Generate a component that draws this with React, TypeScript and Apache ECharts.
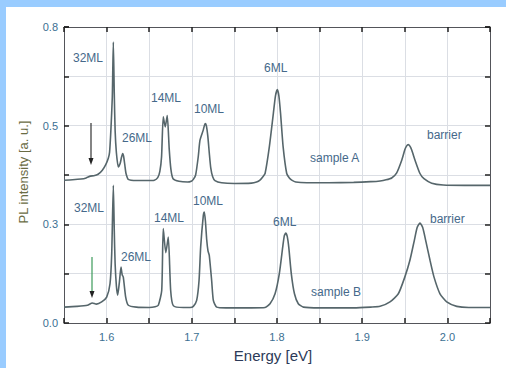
import React, { useEffect, useRef } from "react";
import * as echarts from "echarts";

// Energy [eV], PL intensity [a. u.]
const sampleA: [number, number][] = [
  [1.55, 0.386], [1.56, 0.387], [1.57, 0.389], [1.576, 0.392], [1.581, 0.397], [1.585, 0.398],
  [1.59, 0.402], [1.595, 0.413], [1.599, 0.428], [1.602, 0.445], [1.6035, 0.462], [1.605, 0.52],
  [1.6067, 0.611], [1.6079, 0.759], [1.609, 0.62], [1.61, 0.52], [1.6115, 0.46], [1.6137, 0.422],
  [1.616, 0.432], [1.6175, 0.448], [1.6189, 0.458], [1.62, 0.45], [1.6215, 0.425], [1.6228, 0.404],
  [1.6255, 0.388], [1.635, 0.385], [1.648, 0.385], [1.656, 0.386], [1.66, 0.393], [1.6625, 0.41],
  [1.6645, 0.449], [1.6665, 0.557], [1.6688, 0.53], [1.6712, 0.561], [1.6735, 0.47], [1.6755, 0.415],
  [1.678, 0.39], [1.685, 0.383], [1.695, 0.381], [1.7, 0.384], [1.7018, 0.388], [1.7045, 0.4],
  [1.7076, 0.45], [1.7096, 0.494], [1.7135, 0.522], [1.7148, 0.534], [1.716, 0.539], [1.7172, 0.532],
  [1.7188, 0.505], [1.7205, 0.46], [1.7222, 0.42], [1.7245, 0.395], [1.7272, 0.385], [1.735, 0.379],
  [1.75, 0.377], [1.77, 0.378], [1.776, 0.381], [1.78, 0.386], [1.783, 0.394], [1.786, 0.404],
  [1.791, 0.476], [1.7957, 0.566], [1.7982, 0.614], [1.8004, 0.631], [1.8022, 0.614], [1.8042, 0.566],
  [1.8072, 0.476], [1.8114, 0.404], [1.8145, 0.392], [1.8173, 0.386], [1.822, 0.381], [1.835, 0.379],
  [1.86, 0.379], [1.89, 0.38], [1.91, 0.382], [1.921, 0.384], [1.928, 0.387], [1.9346, 0.392],
  [1.9405, 0.406], [1.9464, 0.44], [1.95, 0.468], [1.952, 0.478], [1.954, 0.482], [1.956, 0.478],
  [1.958, 0.468], [1.962, 0.44], [1.9678, 0.404], [1.9725, 0.39], [1.9816, 0.378], [1.995, 0.373],
  [2.02, 0.372], [2.05, 0.372],
];

const sampleB: [number, number][] = [
  [1.55, 0.043], [1.565, 0.045], [1.5775, 0.048], [1.5832, 0.054], [1.588, 0.051], [1.5942, 0.057],
  [1.6001, 0.07], [1.604, 0.106], [1.606, 0.1875], [1.6079, 0.372], [1.609, 0.25], [1.61, 0.16],
  [1.6115, 0.1], [1.613, 0.075], [1.615, 0.11], [1.6169, 0.151], [1.6183, 0.13], [1.6196, 0.124],
  [1.6224, 0.07], [1.6255, 0.048], [1.635, 0.043], [1.65, 0.042], [1.657, 0.044], [1.6607, 0.048],
  [1.6647, 0.088], [1.6665, 0.255], [1.6695, 0.19], [1.6724, 0.232], [1.6752, 0.088], [1.6783, 0.047],
  [1.69, 0.042], [1.698, 0.042], [1.7018, 0.045], [1.7057, 0.061], [1.7085, 0.115], [1.7104, 0.205],
  [1.7135, 0.29], [1.7147, 0.3], [1.716, 0.275], [1.7175, 0.225], [1.719, 0.195], [1.7205, 0.183],
  [1.7233, 0.115], [1.7253, 0.061], [1.7292, 0.043], [1.74, 0.041], [1.77, 0.041], [1.786, 0.042],
  [1.7918, 0.052], [1.7977, 0.079], [1.8027, 0.133], [1.8067, 0.205], [1.8085, 0.235], [1.8102, 0.243],
  [1.812, 0.234], [1.8138, 0.205], [1.8168, 0.133], [1.8205, 0.079], [1.825, 0.052], [1.831, 0.043],
  [1.85, 0.041], [1.89, 0.041], [1.91, 0.043], [1.921, 0.045], [1.9326, 0.057], [1.9424, 0.079],
  [1.95, 0.124], [1.956, 0.1695], [1.9612, 0.2235], [1.9645, 0.258], [1.9678, 0.27], [1.971, 0.258],
  [1.9745, 0.2235], [1.9796, 0.1695], [1.9843, 0.124], [1.9913, 0.079], [1.9992, 0.057], [2.011, 0.045],
  [2.025, 0.042], [2.05, 0.042],
];

const xRange = [1.55, 2.05];
const yRange = [0, 0.8];

const annotations: { text: string; x: number; y: number }[] = [
  { text: "32ML", x: 67, y: 51 },
  { text: "26ML", x: 116, y: 131 },
  { text: "14ML", x: 145, y: 91 },
  { text: "10ML", x: 188, y: 102 },
  { text: "6ML", x: 258, y: 61 },
  { text: "sample A", x: 304, y: 151 },
  { text: "barrier", x: 421, y: 128 },
  { text: "32ML", x: 68, y: 201 },
  { text: "26ML", x: 115, y: 250 },
  { text: "14ML", x: 148, y: 211 },
  { text: "10ML", x: 187, y: 194 },
  { text: "6ML", x: 267, y: 215 },
  { text: "sample B", x: 305, y: 285 },
  { text: "barrier", x: 424, y: 212 },
];

const FONT = "Liberation Sans, Arial, sans-serif";

const mkTick = () => ({ show: true, inside: true, length: 5, lineStyle: { color: "#222222", width: 1.5 } });

export default function App() {
  const ref = useRef<HTMLDivElement>(null);
  useEffect(() => {
    if (!ref.current) return;
    const chart = echarts.init(ref.current, undefined, { renderer: "svg" });
    const arrow = (x: number, y1: number, y2: number, color: string) => [
      { type: "line", shape: { x1: x, y1, x2: x, y2: y2 - 5 }, style: { stroke: color, lineWidth: 1.2 }, z: 100 },
      {
        type: "polygon",
        shape: { points: [[x - 2.5, y2 - 7], [x + 2.5, y2 - 7], [x, y2]] },
        style: { fill: "#222" },
        z: 100,
      },
    ];
    chart.setOption({
      animation: false,
      backgroundColor: "#ffffff",
      grid: { left: 58, top: 20, right: 16, bottom: 45 },
      xAxis: [
        {
          type: "value",
          min: xRange[0],
          max: xRange[1],
          interval: 0.05,
          position: "bottom",
          axisTick: mkTick(),
          axisLine: { show: true, onZero: false },
          axisLabel: {
            show: true,
            margin: 8,
            color: "#3b6f92",
            fontSize: 11,
            fontFamily: FONT,
            formatter: (v: number) => (Math.round(v * 100) % 10 === 0 ? v.toFixed(1) : ""),
          },
        },
        {
          type: "value",
          min: xRange[0],
          max: xRange[1],
          interval: 0.05,
          position: "top",
          axisTick: mkTick(),
          axisLine: { show: true, onZero: false },
          axisLabel: { show: false },
        },
      ],
      yAxis: [
        {
          type: "value",
          min: yRange[0],
          max: yRange[1],
          interval: 0.8 / 6,
          position: "left",
          axisTick: mkTick(),
          axisLine: { show: true, onZero: false },
          axisLabel: {
            show: true,
            margin: 6,
            color: "#3b6f92",
            fontSize: 11,
            fontFamily: FONT,
            formatter: (v: number, i: number) => (i % 2 === 0 ? v.toFixed(1) : ""),
          },
        },
        {
          type: "value",
          min: yRange[0],
          max: yRange[1],
          interval: 0.8 / 6,
          position: "right",
          axisTick: mkTick(),
          axisLine: { show: true, onZero: false },
          axisLabel: { show: false },
        },
      ],
      series: [
        {
          type: "line",
          name: "sample A",
          data: sampleA,
          showSymbol: false,
          smooth: 0.2,
          lineStyle: { color: "#56666b", width: 1.6 },
        },
        {
          type: "line",
          name: "sample B",
          data: sampleB,
          showSymbol: false,
          smooth: 0.2,
          lineStyle: { color: "#56666b", width: 1.6 },
        },
      ],
      graphic: [
        ...annotations.map((a) => ({
          type: "text",
          x: a.x,
          y: a.y,
          z: 100,
          style: {
            text: a.text,
            fill: "#45698a",
            font: `12px ${FONT}`,
            textAlign: "left",
            textVerticalAlign: "middle",
          },
        })),
        ...arrow(85, 116, 158, "#333333"),
        ...arrow(86, 250, 291, "#3c9a5a"),
        {
          type: "text",
          x: 267,
          y: 348,
          style: {
            text: "Energy [eV]",
            fill: "#2c3a58",
            font: `15px ${FONT}`,
            textAlign: "center",
            textVerticalAlign: "middle",
          },
        },
        {
          type: "text",
          x: 17,
          y: 165,
          rotation: Math.PI / 2,
          style: {
            text: "PL intensity [a. u.]",
            fill: "#6a6c44",
            font: `13px ${FONT}`,
            textAlign: "center",
            textVerticalAlign: "middle",
          },
        },
      ],
    });
    return () => chart.dispose();
  }, []);
  return (
    <div style={{ position: "fixed", left: 0, top: 0, width: 506, height: 368, background: "#99ccff" }}>
      <div ref={ref} style={{ position: "absolute", left: 6, top: 7, width: 500, height: 361 }} />
    </div>
  );
}
